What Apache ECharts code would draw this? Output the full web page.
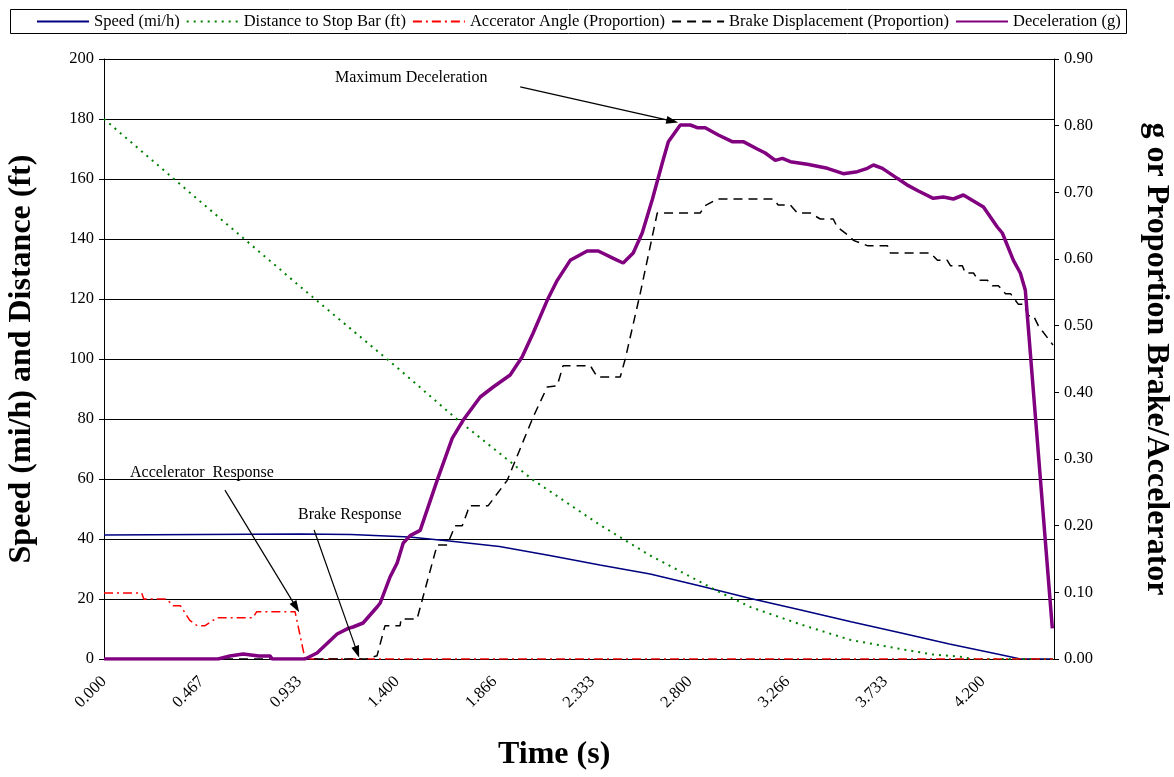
<!DOCTYPE html>
<html>
<head>
<meta charset="utf-8">
<script src="https://cdn.jsdelivr.net/npm/echarts@6/dist/echarts.min.js"></script>
<style>html,body{margin:0;padding:0;background:#fff;}#c{width:1174px;height:777px;}</style>
</head>
<body>
<div id="c"></div>
<script>
// Time tick labels (s)
var timeLabels = ['0.000','0.467','0.933','1.400','1.866','2.333','2.800','3.266','3.733','4.200'];
var timeInterval = 0.46664;
var timeMax = 4.54;
var leftTicks = {min: 0, max: 200, interval: 20};
var rightTicks = {min: 0, max: 0.9, interval: 0.1};

// Speed (mi/h) [time, value]
var speed = [[0,41.3],[0.46,41.5],[0.94,41.7],[1.18,41.5],[1.46,40.7],[1.65,39.3],[1.89,37.5],[2.13,34.5],[2.37,31.3],[2.61,28.3],[2.85,24.3],[3.09,20.2],[3.33,16.3],[3.57,12.4],[3.81,8.7],[4.04,5.0],[4.28,1.5],[4.38,0],[4.535,0]];
// Distance to Stop Bar (ft)
var distance = [[0,180],[0.46,152.5],[0.94,124],[1.42,96],[1.69,79.7],[2.05,59.7],[2.37,44.7],[2.61,34.5],[2.95,22],[3.09,17.3],[3.33,11.5],[3.57,6.3],[3.81,3.3],[3.96,1.5],[4.09,0.8],[4.15,0],[4.535,0]];
// Accelerator angle (proportion)
var accel = [[0,0.099],[0.18,0.099],[0.19,0.09],[0.30,0.09],[0.33,0.08],[0.365,0.08],[0.41,0.058],[0.445,0.05],[0.483,0.05],[0.54,0.062],[0.712,0.062],[0.73,0.071],[0.913,0.071],[0.961,0],[4.535,0]];
// Brake displacement (proportion)
var brake = [[0,0],[1.257,0],[1.305,0.005],[1.343,0.05],[1.415,0.05],[1.42,0.06],[1.496,0.06],[1.592,0.171],[1.64,0.171],[1.678,0.2],[1.712,0.2],[1.736,0.22],[1.745,0.23],[1.836,0.23],[1.927,0.268],[2.051,0.363],[2.118,0.408],[2.166,0.41],[2.194,0.44],[2.324,0.44],[2.357,0.423],[2.467,0.423],[2.491,0.45],[2.563,0.549],[2.644,0.669],[2.849,0.669],[2.873,0.68],[2.931,0.69],[3.198,0.69],[3.222,0.681],[3.28,0.681],[3.313,0.669],[3.375,0.669],[3.423,0.66],[3.485,0.66],[3.504,0.648],[3.567,0.633],[3.581,0.628],[3.648,0.62],[3.744,0.62],[3.758,0.609],[3.949,0.609],[3.983,0.598],[4.03,0.598],[4.045,0.59],[4.102,0.59],[4.116,0.579],[4.155,0.579],[4.179,0.568],[4.222,0.568],[4.245,0.56],[4.274,0.56],[4.308,0.548],[4.332,0.548],[4.37,0.532],[4.394,0.532],[4.418,0.515],[4.442,0.515],[4.465,0.50],[4.535,0.471]];
// Deceleration (g)
var decel = [[0,0],[0.545,0],[0.602,0.0045],[0.665,0.0075],[0.74,0.0045],[0.794,0.0045],[0.803,0],[0.961,0],[1.018,0.009],[1.114,0.0375],[1.167,0.046],[1.19,0.048],[1.238,0.054],[1.305,0.078],[1.32,0.084],[1.367,0.123],[1.401,0.144],[1.43,0.174],[1.463,0.185],[1.511,0.193],[1.592,0.268],[1.664,0.331],[1.716,0.358],[1.798,0.393],[1.86,0.408],[1.941,0.426],[1.998,0.453],[2.051,0.489],[2.118,0.538],[2.166,0.568],[2.228,0.598],[2.309,0.612],[2.362,0.612],[2.434,0.601],[2.481,0.594],[2.529,0.609],[2.572,0.639],[2.62,0.689],[2.668,0.744],[2.697,0.776],[2.754,0.801],[2.802,0.801],[2.835,0.797],[2.873,0.797],[2.936,0.786],[3.002,0.776],[3.055,0.776],[3.122,0.765],[3.16,0.759],[3.208,0.748],[3.242,0.751],[3.28,0.746],[3.361,0.742],[3.457,0.736],[3.533,0.728],[3.6,0.731],[3.648,0.736],[3.677,0.741],[3.72,0.736],[3.791,0.721],[3.844,0.71],[3.892,0.702],[3.963,0.691],[4.011,0.693],[4.059,0.69],[4.107,0.696],[4.203,0.678],[4.269,0.648],[4.293,0.639],[4.346,0.598],[4.379,0.579],[4.403,0.553],[4.532,0.046]];

// Annotation arrows in data coordinates (time, left-axis value)
var arrows = [
  [[1.989,190.7],[2.716,179.3]],
  [[0.578,56.3],[0.918,17.3]],
  [[1.004,43.0],[1.21,2.3]]
];

var FONT = 'Liberation Serif';
var chart = echarts.init(document.getElementById('c'));
var option = {
  animation: false,
  backgroundColor: '#fff',
  textStyle: {fontFamily: FONT, color: '#000'},
  grid: {left: 104, right: 120, top: 59, bottom: 118, containLabel: false, outerBoundsMode: 'none'},
  legend: {
    left: 31, top: 8, itemGap: 6, itemWidth: 52, itemHeight: 12,
    itemStyle: {opacity: 0},
    textStyle: {fontFamily: FONT, fontSize: 16.5, color: '#000'},
    data: ['Speed (mi/h)','Distance to Stop Bar (ft)','Accerator Angle (Proportion)','Brake Displacement (Proportion)','Deceleration (g)']
  },
  graphic: [
    {type: 'rect', left: 8, top: 7, shape: {width: 1116, height: 24}, style: {fill: 'none', stroke: '#000', lineWidth: 1}, z: -1},
    {type: 'text', left: 335, top: 70, style: {text: 'Maximum Deceleration', font: '16px "Liberation Serif"', fill: '#000'}},
    {type: 'text', left: 130, top: 465, style: {text: 'Accelerator  Response', font: '16px "Liberation Serif"', fill: '#000'}},
    {type: 'text', left: 298, top: 507, style: {text: 'Brake Response', font: '16px "Liberation Serif"', fill: '#000'}},
    {type: 'text', left: 498, top: 739, style: {text: 'Time (s)', font: 'bold 32px "Liberation Serif"', fill: '#000'}}
  ],
  xAxis: {
    type: 'value', min: 0, max: timeMax, interval: timeInterval,
    axisLine: {show: true, onZero: false, lineStyle: {color: '#000', width: 1}},
    axisTick: {show: false},
    splitLine: {show: false},
    axisLabel: {
      rotate: 45, margin: 20, fontSize: 16.5, fontFamily: FONT, color: '#000',
      showMaxLabel: false,
      formatter: function (v) {
        var k = v / timeInterval;
        var r = Math.round(k);
        if (Math.abs(k - r) < 1e-3 && r < timeLabels.length) return timeLabels[r];
        return '';
      }
    }
  },
  yAxis: [
    {
      type: 'value', min: leftTicks.min, max: leftTicks.max, interval: leftTicks.interval,
      name: 'Speed (mi/h) and Distance (ft)', nameLocation: 'middle', nameGap: 66,
      nameTextStyle: {fontFamily: FONT, fontSize: 32, fontWeight: 'bold', color: '#000'},
      axisLine: {show: true, lineStyle: {color: '#000', width: 1}},
      axisTick: {show: true, length: 5, lineStyle: {color: '#000'}},
      axisLabel: {margin: 10, fontSize: 16.5, fontFamily: FONT, color: '#000'},
      splitLine: {show: true, lineStyle: {color: '#000', width: 1}}
    },
    {
      type: 'value', min: rightTicks.min, max: rightTicks.max, interval: rightTicks.interval,
      name: 'g or Proportion Brake/Accelerator', nameLocation: 'middle', nameGap: 86, nameRotate: -90,
      nameTextStyle: {fontFamily: FONT, fontSize: 32, fontWeight: 'bold', color: '#000'},
      axisLine: {show: true, lineStyle: {color: '#000', width: 1}},
      axisTick: {show: true, length: 5, lineStyle: {color: '#000'}},
      axisLabel: {margin: 10, fontSize: 16.5, fontFamily: FONT, color: '#000', formatter: function (v) { return v.toFixed(2); }},
      splitLine: {show: false}
    }
  ],
  series: [
    {
      name: 'Speed (mi/h)', type: 'line', yAxisIndex: 0, data: speed, symbol: 'none',
      color: '#000080', lineStyle: {color: '#000080', width: 1.5},
      markLine: {
        silent: true, symbol: ['none', 'triangle'], symbolSize: [8, 12],
        label: {show: false},
        lineStyle: {color: '#000', width: 1.2, type: 'solid'},
        data: arrows.map(function (a) { return [{coord: a[0]}, {coord: a[1]}]; })
      }
    },
    {
      name: 'Distance to Stop Bar (ft)', type: 'line', yAxisIndex: 0, data: distance, symbol: 'none',
      color: '#008000', lineStyle: {color: '#008000', width: 2, type: [2, 5]}
    },
    {
      name: 'Accerator Angle (Proportion)', type: 'line', yAxisIndex: 1, data: accel, symbol: 'none',
      color: '#ff0000', lineStyle: {color: '#ff0000', width: 1.5, type: [9, 4, 2, 4]}
    },
    {
      name: 'Brake Displacement (Proportion)', type: 'line', yAxisIndex: 1, data: brake, symbol: 'none',
      color: '#000000', lineStyle: {color: '#000000', width: 1.5, type: [9, 6]}
    },
    {
      name: 'Deceleration (g)', type: 'line', yAxisIndex: 1, data: decel, symbol: 'none',
      color: '#800080', lineStyle: {color: '#800080', width: 3.5}
    }
  ]
};
chart.setOption(option);
</script>
</body>
</html>
